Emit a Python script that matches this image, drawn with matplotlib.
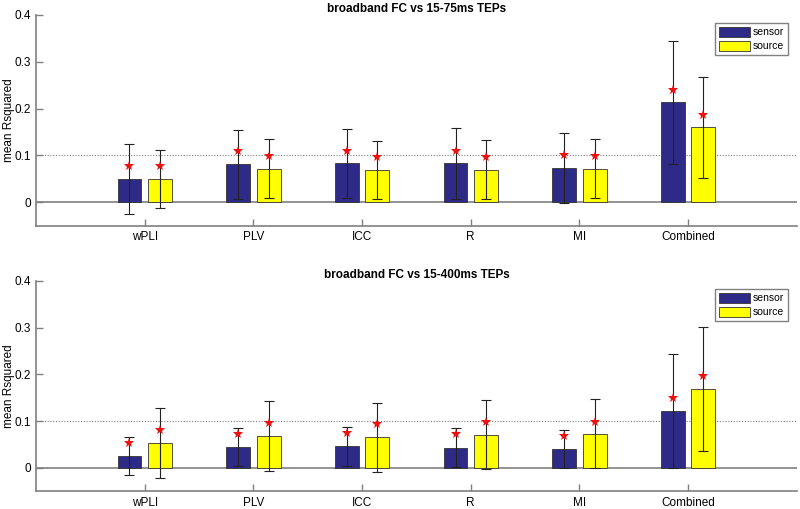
import numpy as np
import matplotlib
matplotlib.use('Agg')
import matplotlib.pyplot as plt

plt.rcParams['font.family'] = ['Liberation Sans', 'DejaVu Sans']

# categories and values
measures = ['wPLI', 'PLV', 'ICC', 'R', 'MI', 'Combined']
titles = ['broadband FC vs 15-75ms TEPs', 'broadband FC vs 15-400ms TEPs']

# 15-75ms panel
sensor_mean_75 = [0.050, 0.081, 0.083, 0.083, 0.073, 0.213]
sensor_err_75 = [0.075, 0.074, 0.074, 0.075, 0.075, 0.131]
sensor_star_75 = [0.078, 0.109, 0.109, 0.110, 0.100, 0.239]
source_mean_75 = [0.049, 0.072, 0.069, 0.069, 0.072, 0.160]
source_err_75 = [0.062, 0.062, 0.062, 0.063, 0.062, 0.108]
source_star_75 = [0.077, 0.098, 0.097, 0.097, 0.098, 0.187]

# 15-400ms panel
sensor_mean_400 = [0.026, 0.045, 0.046, 0.043, 0.040, 0.122]
sensor_err_400 = [0.041, 0.040, 0.041, 0.042, 0.041, 0.122]
sensor_star_400 = [0.054, 0.073, 0.075, 0.072, 0.068, 0.150]
source_mean_400 = [0.053, 0.068, 0.065, 0.071, 0.073, 0.169]
source_err_400 = [0.074, 0.074, 0.074, 0.074, 0.074, 0.133]
source_star_400 = [0.081, 0.095, 0.093, 0.099, 0.099, 0.196]

panels = [
    (sensor_mean_75, sensor_err_75, sensor_star_75,
     source_mean_75, source_err_75, source_star_75),
    (sensor_mean_400, sensor_err_400, sensor_star_400,
     source_mean_400, source_err_400, source_star_400),
]

navy = '#2e2a87'
yellow = '#ffff00'
grey = '#808080'

fig = plt.figure(figsize=(8, 5.09), dpi=100)
axes_pos = [[0.045, 0.5566, 0.951, 0.4144], [0.045, 0.0348, 0.951, 0.4137]]

x = np.arange(1, len(measures) + 1)
off = 0.14
w = 0.22

for pos, title, data in zip(axes_pos, titles, panels):
    ax = fig.add_axes(pos)
    s_m, s_e, s_s, r_m, r_e, r_s = data
    ax.axhline(0, color=grey, lw=1.2, zorder=1)
    ax.axhline(0.1, color=grey, lw=0.8, ls=(0, (1, 1.5)), zorder=1)
    ax.bar(x - off, s_m, w, color=navy, edgecolor='#333333', lw=0.6,
           label='sensor', zorder=2)
    ax.bar(x + off, r_m, w, color=yellow, edgecolor='#333333', lw=0.6,
           label='source', zorder=2)
    ax.errorbar(x - off, s_m, yerr=s_e, fmt='none', ecolor='#222222',
                elinewidth=0.8, capsize=3.6, capthick=0.8, zorder=3)
    ax.errorbar(x + off, r_m, yerr=r_e, fmt='none', ecolor='#222222',
                elinewidth=0.8, capsize=3.6, capthick=0.8, zorder=3)
    ax.plot(x - off, s_s, ls='none', marker='*', color='#ee1111', ms=7,
            markeredgewidth=0, zorder=4)
    ax.plot(x + off, r_s, ls='none', marker='*', color='#ee1111', ms=7,
            markeredgewidth=0, zorder=4)

    ax.set_xlim(0, 7)
    ax.set_ylim(-0.05, 0.4)
    ax.set_yticks([0, 0.1, 0.2, 0.3, 0.4])
    ax.set_yticklabels(['0', '0.1', '0.2', '0.3', '0.4'])
    ax.set_xticks(x)
    ax.set_xticklabels(measures)
    ax.tick_params(direction='in', length=5, color=grey, labelsize=8.5,
                   width=1)
    ax.tick_params(axis='x', pad=4)
    ax.spines['top'].set_visible(False)
    ax.spines['right'].set_visible(False)
    ax.spines['left'].set_color(grey)
    ax.spines['bottom'].set_color(grey)
    ax.spines['left'].set_linewidth(1.2)
    ax.spines['bottom'].set_linewidth(1.2)
    ax.set_ylabel('mean Rsquared', fontsize=8.5, va='center')
    ax.yaxis.set_label_coords(-0.036, 0.5)
    ax.set_title(title, fontsize=8.5, fontweight='bold', pad=1)
    leg = ax.legend(loc='upper right', bbox_to_anchor=(0.988, 0.962),
                    fontsize=7.5, fancybox=False, framealpha=1,
                    handlelength=3, handleheight=1.1, handletextpad=0.2,
                    borderpad=0.4, labelspacing=0.3, borderaxespad=0)
    leg.get_frame().set_edgecolor(grey)
    leg.get_frame().set_linewidth(1)

fig.savefig('out.png', dpi=100)
